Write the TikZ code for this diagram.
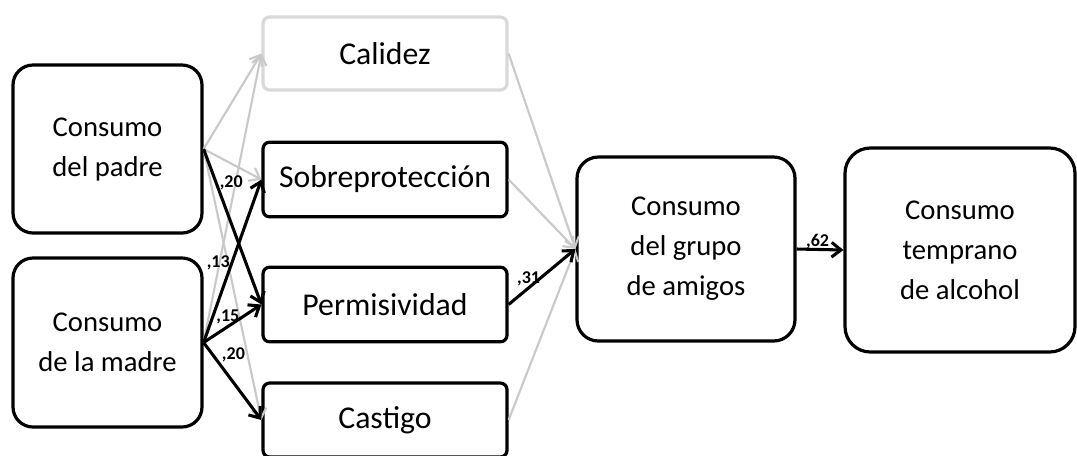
\documentclass[tikz,border=0pt]{standalone}
\usepackage{fontspec}
\setmainfont{Carlito}
\usetikzlibrary{arrows.meta}

\tikzset{
  consumo/.style={draw,line width=2.4pt,align=center,inner sep=0pt,
    font=\fontsize{21.5}{30}\selectfont},
  factor/.style={draw,line width=2.4pt,rounded corners=5pt,align=center,inner sep=0pt,
    minimum width=183pt,minimum height=56pt,font=\fontsize{23.8}{28}\selectfont},
  faint/.style={->,gray!42,line width=1.6pt},
  strong/.style={->,black,line width=2.3pt},
  coef/.style={font=\bfseries\fontsize{13.5}{15}\selectfont,inner sep=0.5pt}
}

\begin{document}
\begin{tikzpicture}[x=0.75pt,y=-0.75pt,>={Straight Barb[length=7pt,width=11pt]}]

\useasboundingbox (0,0) rectangle (1077,455);

%boxes of the parents
\node[consumo,rounded corners=15pt,minimum width=141.75pt,minimum height=126pt] (padre) at (107.5,149) {Consumo\\del padre};
\node[consumo,rounded corners=15pt,minimum width=141.75pt,minimum height=126.75pt] (madre) at (107.5,342.5) {Consumo\\de la madre};

%parenting styles
\node[factor,draw=gray!30,minimum height=54.75pt] (calidez) at (385,53.5) {Calidez};
\node[factor] (sobre) at (385,179.5) {Sobreprotección};
\node[factor] (permis) at (385,304.5) {Permisividad};
\node[factor,minimum height=55.5pt] (castigo) at (385,420) {Castigo};

%peers and outcome
\node[consumo,rounded corners=16pt,minimum width=163.5pt,minimum height=138pt] (amigos) at (686,249) {Consumo\\del grupo\\de amigos};
\node[consumo,rounded corners=19pt,minimum width=172.5pt,minimum height=153pt] (alcohol) at (960,250) {Consumo\\temprano\\de alcohol};

%non significant paths
\foreach \m in {calidez,sobre,castigo}
	{
	\draw[faint] (padre.east)--(\m.west);
	}
\draw[faint] (madre.east)--(calidez.west);
\foreach \m in {calidez,sobre,castigo}
	{
	\draw[faint] (\m.east)--(amigos.west);
	}

%significant paths
\draw[strong] (padre.east)--(permis.west) node[coef,pos=0.22,right=1pt] (c1) {,20};
\draw[strong] (madre.east)--(sobre.west) node[coef,pos=0.49,left=0pt] (c2) {,13};
\draw[strong] (madre.east)--(permis.west) node[coef,pos=0.42,above=0pt] (c3) {,15};
\draw[strong] (madre.east)--(castigo.west) node[coef,pos=0.28,above right=0pt] (c4) {,20};
\draw[strong] (permis.east)--(amigos.west) node[coef,pos=0.3,above=0pt] (c5) {,31};
\draw[strong] (amigos.east)--(alcohol.west) node[coef,pos=0.45,above=-1.5pt] (c6) {,62};

\end{tikzpicture}
\end{document}
